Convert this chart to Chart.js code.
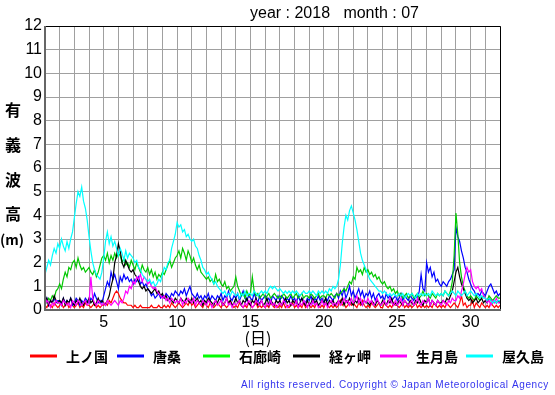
<!DOCTYPE html>
<html>
<head>
<meta charset="utf-8">
<script src="https://cdn.jsdelivr.net/npm/chart.js@4/dist/chart.umd.min.js"></script>
<style>
  html, body { margin: 0; padding: 0; background: #fff; }
  canvas { display: block; }
</style>
</head>
<body>
<canvas id="waveChart" width="555" height="395"></canvas>
<script>
(function(){
  'use strict';

  // station names (legend order) and colours
  const stations = ['上ノ国', '唐桑', '石廊崎', '経ヶ岬', '生月島', '屋久島'];
  const lineColors = ['#ff0000', '#0000ff', '#00c800', '#000000', '#ff00ff', '#00ffff'];
  const legendColors = ['#ff0000', '#0000ff', '#00ff00', '#000000', '#ff00ff', '#00ffff'];
  const dayTicks = [5, 10, 15, 20, 25, 30];
  const yTicks = [0, 1, 2, 3, 4, 5, 6, 7, 8, 9, 10, 11, 12];

  // significant wave height (m), 3-hourly, 1 Jul 00h .. 1 Aug 00h (two days per row)
  const kaminokuni = [
    0.2,0.1,0.3,0.2,0.1,0.3,0.2,0.1, 0.2,0.3,0.1,0.2,0.3,0.1,0.2,0.2,
    0.1,0.2,0.3,0.1,0.2,0.1,0.3,0.2, 0.2,0.1,0.2,0.3,0.1,0.2,0.1,0.2,
    0.2,0.3,0.2,0.4,0.3,0.5,0.7,0.8, 0.7,0.5,0.4,0.3,0.3,0.2,0.2,0.2,
    0.1,0.2,0.1,0.1,0.2,0.1,0.1,0.1, 0.1,0.1,0.2,0.1,0.1,0.1,0.2,0.1,
    0.1,0.2,0.1,0.2,0.1,0.3,0.2,0.1, 0.2,0.3,0.2,0.1,0.2,0.3,0.2,0.4,
    0.2,0.3,0.1,0.2,0.3,0.2,0.1,0.3, 0.2,0.1,0.3,0.2,0.1,0.2,0.3,0.2,
    0.1,0.3,0.2,0.1,0.2,0.4,0.2,0.1, 0.2,0.1,0.3,0.2,0.1,0.2,0.1,0.3,
    0.2,0.1,0.2,0.3,0.1,0.2,0.1,0.2, 0.1,0.2,0.1,0.3,0.2,0.1,0.2,0.1,
    0.2,0.1,0.3,0.1,0.2,0.1,0.2,0.3, 0.1,0.2,0.1,0.2,0.1,0.3,0.1,0.2,
    0.2,0.1,0.2,0.1,0.3,0.2,0.1,0.2, 0.1,0.3,0.2,0.1,0.2,0.1,0.2,0.1,
    0.2,0.4,0.2,0.3,0.1,0.2,0.3,0.2, 0.3,0.2,0.1,0.3,0.2,0.4,0.2,0.1,
    0.2,0.1,0.3,0.2,0.1,0.2,0.3,0.1, 0.1,0.3,0.2,0.1,0.2,0.1,0.3,0.2,
    0.2,0.1,0.2,0.3,0.1,0.2,0.1,0.2, 0.1,0.2,0.3,0.1,0.2,0.1,0.2,0.1,
    0.2,0.1,0.2,0.1,0.3,0.2,0.1,0.2, 0.1,0.2,0.1,0.3,0.2,0.1,0.2,0.3,
    0.2,0.1,0.3,0.6,0.2,0.3,0.1,0.2, 0.2,0.4,0.1,0.3,0.2,0.1,0.3,0.2,
    0.1,0.2,0.1,0.3,0.2,0.1,0.2,0.1, 0.2
  ];
  const karakuwa = [
    0.3,0.5,0.2,0.4,0.3,0.5,0.3,0.4, 0.4,0.2,0.5,0.3,0.4,0.3,0.5,0.2,
    0.3,0.5,0.4,0.2,0.4,0.3,0.5,0.4, 0.3,0.5,0.4,0.7,0.5,0.3,0.4,0.3,
    0.6,0.9,1.2,1.0,1.6,1.3,1.5,1.2, 0.9,1.4,1.2,1.5,1.3,1.4,1.2,1.3,
    1.1,1.3,1.2,1.4,1.1,1.2,1.0,1.1, 0.9,0.8,0.6,0.7,0.5,0.6,0.7,0.5,
    0.6,0.5,0.7,0.6,0.5,0.7,0.6,0.8, 0.7,0.6,0.8,0.7,0.9,0.6,0.8,1.0,
    0.7,0.6,0.5,0.7,0.5,0.6,0.4,0.6, 0.5,0.7,0.4,0.6,0.5,0.4,0.6,0.5,
    0.7,0.4,0.6,0.5,0.8,0.5,0.4,0.6, 0.5,0.7,0.4,0.6,0.8,0.5,0.4,0.6,
    0.5,0.4,0.7,0.5,0.3,0.6,0.4,0.5, 0.6,0.4,0.5,0.3,0.6,0.5,0.4,0.6,
    0.4,0.6,0.5,0.3,0.5,0.4,0.6,0.4, 0.5,0.3,0.6,0.4,0.5,0.4,0.3,0.5,
    0.4,0.6,0.3,0.5,0.4,0.6,0.4,0.5, 0.3,0.5,0.4,0.6,0.5,0.4,0.6,0.7,
    0.5,0.8,0.6,0.9,0.5,0.7,1.0,0.6, 0.8,0.5,0.7,0.9,0.6,0.8,0.5,0.7,
    0.6,0.8,0.5,0.7,0.4,0.6,0.7,0.5, 0.6,0.4,0.7,0.5,0.6,0.4,0.5,0.6,
    0.4,0.5,0.7,0.4,0.6,0.5,0.4,0.6, 0.5,0.4,0.6,0.5,0.8,1.5,0.9,0.8,
    2.0,1.6,1.8,1.4,1.6,1.2,1.3,1.1, 1.0,1.2,1.1,1.0,1.2,1.3,1.5,1.7,
    3.5,3.1,2.9,2.5,2.2,1.8,1.6,1.3, 1.1,0.9,0.8,0.6,0.7,0.6,0.8,0.7,
    0.6,0.8,1.0,1.1,0.9,0.7,0.8,0.6, 0.7
  ];
  const irozaki = [
    0.4,0.3,0.5,0.4,0.6,0.5,0.8,0.9, 1.1,0.9,1.3,1.6,1.4,1.8,1.7,2.0,
    2.1,1.8,2.2,1.9,1.7,1.8,1.6,1.7, 1.8,1.6,1.5,1.7,1.4,1.6,1.9,2.2,
    2.3,2.1,2.4,2.0,2.3,2.1,2.4,2.2, 2.4,2.3,2.0,2.2,1.9,2.0,1.8,2.1,
    1.9,1.7,2.0,1.8,1.6,1.9,1.7,1.6, 1.8,1.5,1.7,1.4,1.6,1.3,1.5,1.4,
    1.6,1.5,1.7,1.9,2.1,1.8,2.0,2.2, 2.3,2.5,2.2,2.6,2.4,2.1,2.5,2.3,
    2.0,2.2,1.9,1.7,1.9,1.6,1.5,1.4, 1.3,1.4,1.2,1.3,1.1,1.5,1.2,1.3,
    1.1,1.0,1.2,0.9,1.0,0.8,0.9,1.0, 1.4,1.0,0.8,0.6,0.7,0.5,0.8,0.6,
    0.7,1.4,0.8,0.6,0.7,0.5,0.6,0.7, 0.5,0.6,0.7,0.5,0.6,0.7,0.6,0.5,
    0.6,0.5,0.7,0.6,0.5,0.6,0.7,0.5, 0.6,0.7,0.5,0.6,0.7,0.5,0.6,0.6,
    0.5,0.7,0.6,0.5,0.6,0.7,0.5,0.6, 0.6,0.5,0.7,0.6,0.7,0.6,0.5,0.7,
    0.6,0.7,0.8,0.9,0.8,1.0,1.2,1.1, 1.4,1.3,1.8,1.6,1.7,1.5,1.8,1.6,
    1.7,1.5,1.6,1.4,1.5,1.3,1.4,1.2, 1.1,1.2,1.0,0.9,1.0,0.8,0.9,0.7,
    0.8,0.6,0.7,0.5,0.6,0.7,0.5,0.6, 0.7,0.5,0.6,0.7,0.5,0.6,0.8,0.6,
    0.7,0.6,0.5,0.7,0.6,0.5,0.7,0.6, 0.7,0.6,0.8,0.7,0.6,0.8,1.2,2.3,
    4.1,3.2,2.0,1.4,1.0,0.8,0.6,0.5, 0.6,0.5,0.4,0.6,0.5,0.4,0.5,0.6,
    0.5,0.4,0.6,0.5,0.4,0.5,0.6,0.5, 0.5
  ];
  const kyogamisaki = [
    0.3,0.5,0.2,0.4,0.3,0.6,0.4,0.3, 0.4,0.3,0.5,0.2,0.4,0.3,0.5,0.3,
    0.2,0.4,0.3,0.5,0.3,0.2,0.4,0.3, 0.5,0.3,0.4,0.2,0.3,0.5,0.3,0.4,
    0.3,0.2,0.4,0.6,1.0,1.3,2.0,2.3, 2.8,2.5,2.0,1.8,2.1,1.9,1.7,1.6,
    1.7,1.5,1.4,1.2,1.0,0.9,1.0,0.8, 0.9,0.8,0.7,0.8,0.9,0.7,0.8,0.6,
    0.7,0.5,0.6,0.4,0.5,0.4,0.3,0.5, 0.4,0.3,0.5,0.4,0.3,0.5,0.4,0.3,
    0.5,0.3,0.4,0.5,0.3,0.4,0.2,0.4, 0.3,0.5,0.4,0.3,0.2,0.4,0.3,0.5,
    0.4,0.2,0.3,0.5,0.3,0.4,0.2,0.3, 0.5,0.3,0.4,0.2,0.4,0.3,0.5,0.3,
    0.2,0.4,0.3,0.5,0.2,0.3,0.4,0.2, 0.3,0.5,0.2,0.4,0.3,0.2,0.4,0.3,
    0.4,0.2,0.3,0.5,0.3,0.4,0.2,0.4, 0.3,0.4,0.2,0.3,0.5,0.3,0.2,0.4,
    0.2,0.3,0.5,0.3,0.4,0.2,0.3,0.4, 0.3,0.5,0.2,0.4,0.3,0.4,0.2,0.3,
    0.4,0.3,0.5,0.2,0.4,0.3,0.5,0.3, 0.2,0.4,0.3,0.5,0.3,0.2,0.4,0.3,
    0.3,0.2,0.4,0.3,0.2,0.4,0.3,0.2, 0.4,0.3,0.2,0.4,0.3,0.5,0.2,0.3,
    0.2,0.4,0.3,0.2,0.4,0.3,0.2,0.4, 0.3,0.2,0.4,0.3,0.5,0.3,0.2,0.4,
    0.3,0.5,0.2,0.4,0.3,0.2,0.4,0.3, 0.3,0.4,0.3,0.5,0.4,0.6,0.8,1.2,
    1.6,1.8,1.4,1.1,0.9,0.7,0.5,0.4, 0.5,0.3,0.4,0.5,0.3,0.4,0.5,0.3,
    0.4,0.3,0.5,0.4,0.3,0.4,0.3,0.4, 0.3
  ];
  const ikitsukijima = [
    0.2,0.4,0.3,0.1,0.3,0.2,0.4,0.3, 0.3,0.2,0.4,0.3,0.2,0.3,0.1,0.4,
    0.3,0.2,0.4,0.3,0.2,0.3,0.4,0.2, 0.3,1.4,0.5,0.3,0.2,0.4,0.3,0.2,
    0.3,0.2,0.4,0.3,0.2,0.3,0.4,0.3, 0.2,0.4,0.3,0.5,0.8,0.7,1.0,0.9,
    1.2,1.1,1.4,1.3,1.5,1.2,1.4,1.3, 1.1,1.2,1.0,0.9,1.0,0.8,0.7,0.6,
    0.5,0.6,0.4,0.5,0.3,0.5,0.4,0.3, 0.4,0.3,0.5,0.2,0.4,0.3,0.5,0.4,
    0.3,0.5,0.2,0.4,0.3,0.2,0.4,0.3, 0.2,0.4,0.3,0.1,0.3,0.4,0.2,0.3,
    0.4,0.2,0.3,0.5,0.2,0.3,0.1,0.3, 0.2,0.3,0.4,0.2,0.1,0.3,0.2,0.4,
    0.3,0.1,0.2,0.4,0.3,0.2,0.4,0.2, 0.1,0.3,0.2,0.4,0.2,0.3,0.1,0.2,
    0.3,0.2,0.4,0.3,0.1,0.2,0.3,0.2, 0.2,0.4,0.1,0.3,0.2,0.4,0.3,0.1,
    0.3,0.2,0.4,0.2,0.3,0.1,0.2,0.4, 0.2,0.3,0.1,0.3,0.4,0.2,0.3,0.2,
    0.4,0.2,0.3,0.5,0.3,0.4,0.2,0.5, 0.3,0.4,0.6,0.3,0.5,0.2,0.4,0.3,
    0.5,0.3,0.4,0.2,0.3,0.5,0.3,0.2, 0.3,0.4,0.2,0.3,0.5,0.3,0.2,0.4,
    0.2,0.3,0.5,0.2,0.4,0.3,0.2,0.3, 0.4,0.2,0.3,0.5,0.3,0.2,0.4,0.3,
    0.3,0.5,0.2,0.4,0.3,0.2,0.4,0.3, 0.2,0.4,0.3,0.2,0.4,0.3,0.5,0.4,
    0.4,0.6,0.5,0.8,1.1,1.5,1.8,1.6, 1.7,1.2,1.0,0.9,1.0,0.8,0.9,0.6,
    0.5,0.3,0.4,0.2,0.4,0.3,0.5,0.3, 0.3
  ];
  const yakushima = [
    1.5,1.8,2.1,1.9,2.3,2.6,2.4,2.8, 2.6,3.0,2.7,2.5,2.9,2.6,3.0,3.3,
    3.9,4.5,5.0,4.8,5.2,4.6,4.3,3.8, 3.1,2.5,2.0,1.7,1.5,1.4,1.3,1.6,
    2.2,2.9,3.3,2.8,3.1,2.7,2.9,2.6, 2.3,2.6,2.4,2.1,2.5,2.2,2.4,2.3,
    2.2,2.0,2.1,1.8,1.7,1.5,1.4,1.3, 1.2,1.3,1.1,1.2,1.0,1.1,1.3,1.2,
    1.5,1.8,1.7,2.0,2.1,2.6,2.9,3.2, 3.7,3.5,3.6,3.3,3.4,3.1,3.2,3.0,
    2.9,3.0,2.7,2.6,2.3,2.1,1.8,1.7, 1.5,1.6,1.4,1.3,1.1,1.2,1.0,0.9,
    0.8,0.7,0.8,0.6,0.7,0.6,0.8,0.7, 0.6,0.7,0.5,0.7,0.6,0.8,0.6,0.7,
    0.7,0.6,0.8,0.7,0.6,0.7,0.8,0.7, 0.8,0.7,0.9,1.0,0.9,1.0,0.9,0.8,
    0.9,0.8,0.7,0.8,0.7,0.8,0.7,0.8, 0.7,0.8,0.7,0.6,0.7,0.8,0.7,0.7,
    0.8,0.7,0.8,0.7,0.6,0.8,0.7,0.8, 0.7,0.8,0.7,0.9,0.8,1.0,0.9,1.0,
    1.3,1.9,2.8,3.5,4.0,3.8,4.2,4.4, 4.1,3.8,3.4,2.9,2.4,2.1,1.9,1.7,
    1.5,1.3,1.2,1.1,1.0,0.9,0.8,0.8, 0.7,0.8,0.7,0.6,0.7,0.6,0.7,0.6,
    0.6,0.7,0.6,0.7,0.5,0.6,0.7,0.6, 0.7,0.6,0.5,0.7,0.6,0.7,0.6,0.7,
    0.6,0.7,0.6,0.8,0.7,0.6,0.7,0.6, 0.7,0.6,0.8,0.7,0.6,0.7,0.8,0.7,
    0.6,0.8,0.7,0.6,0.7,0.8,0.6,0.7, 0.8,0.7,0.6,0.7,0.6,0.5,0.6,0.5,
    0.5,0.4,0.5,0.4,0.3,0.4,0.3,0.4, 0.4
  ];
  const seriesValues = [kaminokuni, karakuwa, irozaki, kyogamisaki, ikitsukijima, yakushima];

  // time axis in days (1.0 = 1 Jul 00h), 3-hour steps
  const times = kaminokuni.map((_, i) => 1 + i / 8);

  const FONT = "'Liberation Sans', Arial, sans-serif";
  const JFONT = "'Noto Sans CJK JP', sans-serif";

  // later stations drawn on top (lower order = drawn last)
  const datasets = stations.map((name, i) => ({
    label: name,
    data: seriesValues[i],
    borderColor: lineColors[i],
    borderWidth: 1.2,
    pointRadius: 0,
    tension: 0,
    fill: false,
    order: stations.length - i
  }));

  const framePlugin = {
    id: 'frame',
    afterDatasetsDraw(chart){
      const { ctx, chartArea: { left, right, top, bottom } } = chart;
      ctx.save();
      ctx.strokeStyle = '#000'; ctx.lineWidth = 1;
      ctx.beginPath();
      ctx.moveTo(left, top + 0.5); ctx.lineTo(right + 0.5, top + 0.5); ctx.lineTo(right + 0.5, bottom);
      ctx.stroke();
      ctx.strokeStyle = '#666'; ctx.lineWidth = 2;
      ctx.beginPath();
      ctx.moveTo(left, top); ctx.lineTo(left, bottom); ctx.lineTo(right + 1, bottom);
      ctx.stroke();
      ctx.restore();
    }
  };

  const textPlugin = {
    id: 'texts',
    afterDraw(chart){
      const { ctx } = chart;
      ctx.save();
      ctx.fillStyle = '#000';
      ctx.textBaseline = 'middle';
      ctx.font = '16px ' + FONT;
      ctx.textAlign = 'left';
      ctx.fillText('year : 2018   month : 07', 250, 14);

      // vertical y title
      ctx.textAlign = 'center';
      ctx.font = 'bold 16px ' + JFONT;
      [['有', 110], ['義', 145], ['波', 180], ['高', 214]].forEach(([t, y]) => ctx.fillText(t, 13, y));
      ctx.font = 'bold 14px ' + JFONT;
      ctx.fillText('(m)', 12, 240);

      ctx.font = '16px ' + JFONT;
      ctx.fillText('(日)', 258, 338);

      // legend
      const legendX = [30, 117, 203, 293, 380, 466];
      ctx.font = 'bold 14px ' + JFONT;
      ctx.textAlign = 'left';
      stations.forEach((name, i) => {
        const x = legendX[i];
        ctx.strokeStyle = legendColors[i]; ctx.lineWidth = 3;
        ctx.beginPath(); ctx.moveTo(x, 356); ctx.lineTo(x + 27, 356); ctx.stroke();
        ctx.fillText(name, x + 36, 357);
      });

      // copyright, stretched to its span in the original
      const copy = 'All rights reserved. Copyright © Japan Meteorological Agency';
      ctx.font = '10px ' + FONT;
      ctx.fillStyle = '#3333ee';
      const w = ctx.measureText(copy).width;
      if ('letterSpacing' in ctx) ctx.letterSpacing = Math.max(0, (308 - w) / copy.length).toFixed(2) + 'px';
      ctx.fillText(copy, 241, 385);
      ctx.restore();
    }
  };

  const gridColor = '#a0a0a0';

  new Chart(document.getElementById('waveChart'), {
    type: 'line',
    data: { labels: times, datasets },
    options: {
      responsive: false,
      animation: false,
      events: [],
      layout: { padding: { top: 26, right: 55, left: 0, bottom: 0 } },
      plugins: { legend: { display: false }, tooltip: { enabled: false } },
      scales: {
        x: {
          type: 'linear', min: 1, max: 32,
          grid: { color: gridColor, drawTicks: false },
          border: { display: false },
          ticks: {
            stepSize: 1, autoSkip: false, maxRotation: 0, padding: 3,
            color: '#000', font: { family: FONT, size: 16 },
            callback: v => dayTicks.includes(v) ? String(v) : ''
          },
          afterFit(s){ s.height = 85; }
        },
        y: {
          min: 0, max: 12,
          grid: { color: gridColor, drawTicks: false },
          border: { display: false },
          ticks: {
            stepSize: 1, padding: 3,
            color: '#000', font: { family: FONT, size: 16 },
            callback: v => yTicks.includes(v) ? String(v) : ''
          },
          afterFit(s){ s.width = 45; }
        }
      }
    },
    plugins: [framePlugin, textPlugin]
  });
})();
</script>
</body>
</html>
